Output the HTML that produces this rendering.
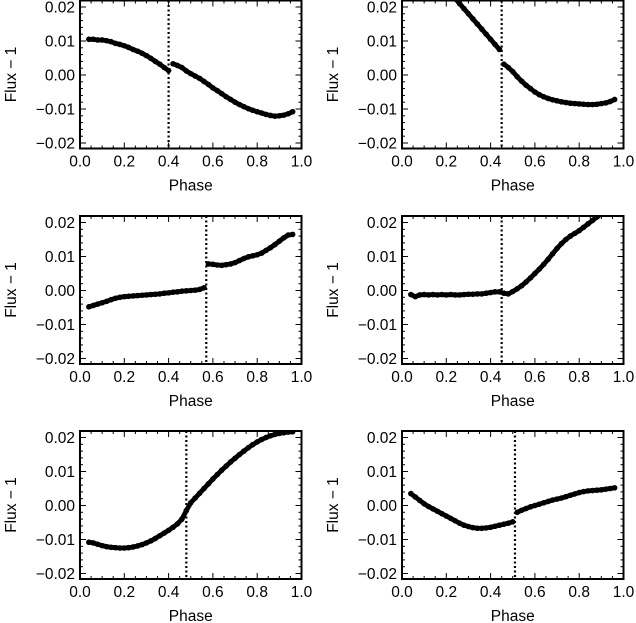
<!DOCTYPE html>
<html><head><meta charset="utf-8"><style>
body{margin:0;background:#fff}
svg{display:block}
text{font-family:"Liberation Sans",Arial,sans-serif;font-size:15.5px;fill:#000}
</style></head><body>
<svg id="fig" width="636" height="623"></svg>
<script>
const phases=[];for(let i=0;i<47;i++)phases.push(+(0.04+0.02*i).toFixed(2));
const flux1=[.0105,.0105,.0103,.0103,.0101,.0098,.0093,.0090,.0086,.0081,.0075,.0070,.0064,.0057,.0049,.0040,.0032,.0022,.0013,.0033,.0028,.0022,.0012,.0004,-.0003,-.0010,-.0019,-.0028,-.0038,-.0046,-.0055,-.0064,-.0072,-.0080,-.0087,-.0093,-.0099,-.0104,-.0108,-.0112,-.0116,-.0119,-.0121,-.0120,-.0118,-.0114,-.0108];
const flux2=[.036,.034,.033,.032,.031,.030,.029,.027,.026,.024,.0225,.021,.0195,.018,.0165,.015,.0135,.012,.0105,.009,.0075,.0032,.0022,.0010,-.0005,-.0018,-.0030,-.0040,-.0050,-.0058,-.0064,-.0069,-.0073,-.0076,-.0079,-.0081,-.0083,-.0084,-.0085,-.0086,-.0087,-.0087,-.0086,-.0084,-.0082,-.0078,-.0072];
const flux3=[-.0048,-.0044,-.0040,-.0036,-.0032,-.0027,-.0023,-.0020,-.0018,-.0017,-.0016,-.0015,-.0014,-.0013,-.0012,-.0011,-.0010,-.0008,-.0007,-.0005,-.0004,-.0002,-.0001,.0000,.0001,.0003,.0008,.0078,.0077,.0075,.0074,.0076,.0078,.0082,.0088,.0094,.0099,.0102,.0105,.0110,.0118,.0126,.0135,.0145,.0155,.0163,.0165];
const flux4=[-.0012,-.0018,-.0013,-.0012,-.0013,-.0012,-.0013,-.0012,-.0013,-.0012,-.0013,-.0013,-.0012,-.0011,-.0011,-.0010,-.0010,-.0008,-.0006,-.0004,-.0004,-.0008,-.0010,-.0003,.0005,.0014,.0025,.0037,.0050,.0063,.0077,.0092,.0108,.0124,.0138,.0150,.0160,.0168,.0176,.0186,.0196,.0206,.0216,.0226,.0236,.0246,.0256];
const flux5=[-.0108,-.0110,-.0114,-.0118,-.0121,-.0123,-.0124,-.0125,-.0125,-.0124,-.0122,-.0119,-.0115,-.0110,-.0104,-.0097,-.0089,-.0081,-.0073,-.0064,-.0054,-.0040,-.0015,.0008,.0022,.0036,.0050,.0064,.0078,.0091,.0104,.0116,.0128,.0139,.0150,.0160,.0170,.0179,.0187,.0194,.0200,.0205,.0209,.0212,.0214,.0216,.0217];
const flux6=[.0035,.0025,.0015,.0005,-.0003,-.0010,-.0017,-.0024,-.0031,-.0038,-.0045,-.0052,-.0058,-.0062,-.0065,-.0067,-.0067,-.0066,-.0064,-.0061,-.0058,-.0055,-.0052,-.0048,-.0020,-.0014,-.0009,-.0004,.0000,.0004,.0008,.0012,.0016,.0019,.0022,.0026,.0030,.0034,.0038,.0041,.0043,.0044,.0045,.0046,.0048,.0050,.0052];
const markerPhases=[0.40,0.45,0.57,0.45,0.48,0.51];
const jumpPhases=[0.41,0.45,0.57,null,null,0.51];
const xTicks=["0.0","0.2","0.4","0.6","0.8","1.0"];
const yTicks=["0.02","0.01","0.00","\u22120.01","\u22120.02"];
const yTickVals=[0.02,0.01,0,-0.01,-0.02];
const series=[flux1,flux2,flux3,flux4,flux5,flux6];

const NS="http://www.w3.org/2000/svg";
const svg=document.getElementById('fig');
function mk(tag,attrs,parent){const e=document.createElementNS(NS,tag);for(const k in attrs)e.setAttribute(k,attrs[k]);(parent||svg).appendChild(e);return e;}
const lefts=[80,402],tops=[0.5,216,431],W=221.5,H=148,Y0OFF=74.5,YS=3400;
const defs=mk('defs',{});
series.forEach((data,i)=>{
  const L=lefts[i%2],T=tops[Math.floor(i/2)];
  const xs=v=>L+v*W, ys=v=>T+Y0OFF-v*YS;
  const g=mk('g',{});
  
  
  const cp=mk('clipPath',{id:'c'+i},defs);mk('rect',{x:L,y:T,width:W,height:H},cp);
  const dg=mk('g',{'clip-path':'url(#c'+i+')'},g);
  
  
  const jp=jumpPhases[i];
  for(let k=0;k<phases.length;k++){
    if(k>0 && !(jp!==null && phases[k-1]<jp && phases[k]>=jp)){
      const s=mk('line',{x1:xs(phases[k-1]),y1:ys(data[k-1]),x2:xs(phases[k]),y2:ys(data[k]),stroke:'#000','stroke-width':4.8,'stroke-linecap':'round'},dg);
      
      
    }
    const c=mk('circle',{cx:xs(phases[k]),cy:ys(data[k]),r:2.8,fill:'#000'},dg);
    
    
  }
  const m=mk('line',{x1:xs(markerPhases[i]),y1:T,x2:xs(markerPhases[i]),y2:T+H,stroke:'#000','stroke-width':2.2,'stroke-dasharray':'2,2.5'},g);
  
  
  for(let t=0;t<=20;t++){const v=t*0.05,len=(t%4===0)?6:3,x=xs(v);
    mk('line',{x1:x,y1:T+H,x2:x,y2:T+H-len,stroke:'#000','stroke-width':1},g);
    mk('line',{x1:x,y1:T,x2:x,y2:T+len,stroke:'#000','stroke-width':1},g);}
  for(let t=-10;t<=10;t++){const v=t*0.002;const y=ys(v);if(y<T||y>T+H)continue;const len=(t%5===0)?6:3;
    mk('line',{x1:L,y1:y,x2:L+len,y2:y,stroke:'#000','stroke-width':1},g);
    mk('line',{x1:L+W,y1:y,x2:L+W-len,y2:y,stroke:'#000','stroke-width':1},g);}
  const fr=mk('rect',{x:L,y:T,width:W,height:H,fill:'none',stroke:'#000','stroke-width':2},g);
  
  
  xTicks.forEach((lab,j)=>{const tx=mk('text',{x:xs(j*0.2),y:T+H+18,'text-anchor':'middle'},g);tx.textContent=lab;
    
    });
  yTicks.forEach((lab,j)=>{const tx=mk('text',{x:L-5,y:ys(yTickVals[j])+5.5,'text-anchor':'end'},g);tx.textContent=lab;
    
    });
  const xt=mk('text',{x:L+W/2,y:T+H+42,'text-anchor':'middle'},g);xt.textContent='Phase';
  
  
  const yx=L-64,yy=T+H/2;
  const yt=mk('text',{x:yx,y:yy,'text-anchor':'middle',transform:'rotate(-90 '+yx+' '+yy+')'},g);yt.textContent='Flux  \u2212  1';
  yt.setAttribute('xml:space','preserve');
  
  
});
</script>
</body></html>
